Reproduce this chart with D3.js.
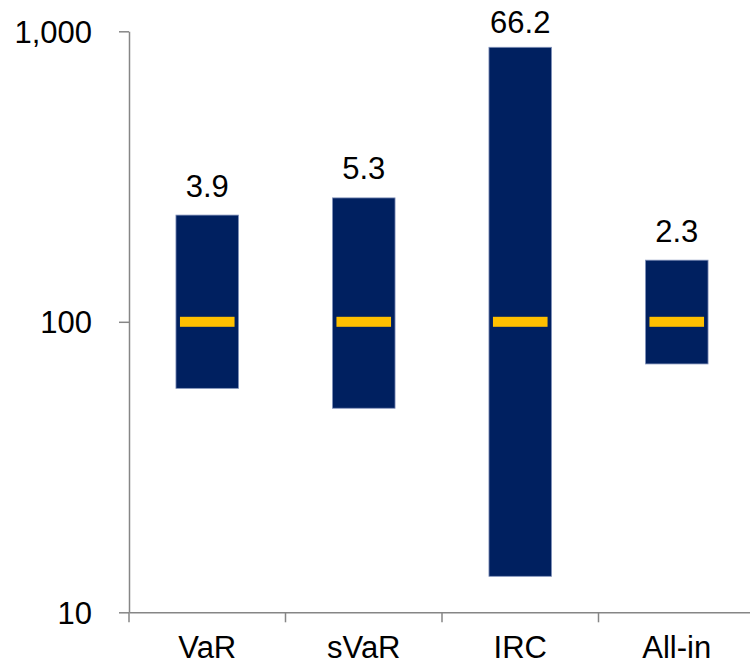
<meta charset="utf-8">
<style type="text/css">
    body { margin: 0; background: #fff; }
    text { font-family: "Liberation Sans", Arial, sans-serif; fill: #000; }
    .axis path, .axis line { stroke: #868686; stroke-width: 1.5; }
    .bar { fill: #002060; stroke: #8393bb; stroke-width: 0.8; }
    .mid { fill: #ffc000; }
</style>
<body>
<script src="https://d3js.org/d3.v7.min.js"></script>
<script>

// data
var categories = ["VaR", "sVaR", "IRC", "All-in"];
var lows  = [59.0, 50.4, 13.3, 71.6];
var highs = [233, 267, 881, 163];
var mids  = [100, 100, 100, 100];
var labels = ["3.9", "5.3", "66.2", "2.3"];
var yTicks = [10, 100, 1000];

var margin = {top: 31.3, right: -5, bottom: 52.7, left: 129},
    width = 750 - margin.left - margin.right,
    height = 665 - margin.top - margin.bottom;

var svg = d3.select("body").append("svg")
    .attr("width", 750)
    .attr("height", 665)
  .append("g")
    .attr("transform", "translate(" + margin.left + "," + margin.top + ")");

var x = d3.scaleBand().domain(categories).range([0, width]);
var y = d3.scaleLog().domain([10, 1000]).range([height, 0]);

var barW = x.bandwidth() * 0.4;

// bars from low to high
svg.selectAll(".bar")
    .data(categories)
  .enter().append("rect")
    .attr("class", "bar")
    .attr("x", function(d) { return x(d) + x.bandwidth() / 2 - barW / 2; })
    .attr("width", barW)
    .attr("y", function(d, i) { return y(highs[i]); })
    .attr("height", function(d, i) { return y(lows[i]) - y(highs[i]); });

// yellow marker at 100
svg.selectAll(".mid")
    .data(categories)
  .enter().append("rect")
    .attr("class", "mid")
    .attr("x", function(d) { return x(d) + x.bandwidth() / 2 - barW / 2 + 4; })
    .attr("width", barW - 8)
    .attr("y", function(d, i) { return y(mids[i]) - 5; })
    .attr("height", 10);

// ratio labels
svg.selectAll(".lbl")
    .data(categories)
  .enter().append("text")
    .attr("class", "lbl")
    .attr("x", function(d) { return x(d) + x.bandwidth() / 2; })
    .attr("y", function(d, i) { return Math.max(y(highs[i]) - 18.5, 2); })
    .attr("text-anchor", "middle")
    .style("font-size", "31px")
    .text(function(d, i) { return labels[i]; });

// y axis
var yAxis = svg.append("g")
    .attr("class", "axis")
    .call(d3.axisLeft(y).tickValues(yTicks).tickSize(10).tickSizeOuter(0)
      .tickFormat(d3.format(",")));
yAxis.selectAll("text").style("font-size", "31px").attr("x", -37).attr("dy", "0.35em");

// x axis
var xAxis = svg.append("g")
    .attr("class", "axis")
    .attr("transform", "translate(0," + height + ")")
    .call(d3.axisBottom(x).tickSize(0).tickSizeOuter(0));
xAxis.selectAll("text").style("font-size", "31px").attr("y", 45.5).attr("dy", 0);

// category separator ticks
xAxis.selectAll(".sep")
    .data(categories)
  .enter().append("line")
    .attr("class", "sep")
    .attr("x1", function(d) { return x(d); })
    .attr("x2", function(d) { return x(d); })
    .attr("y1", 0)
    .attr("y2", 10);

</script>
</body>
